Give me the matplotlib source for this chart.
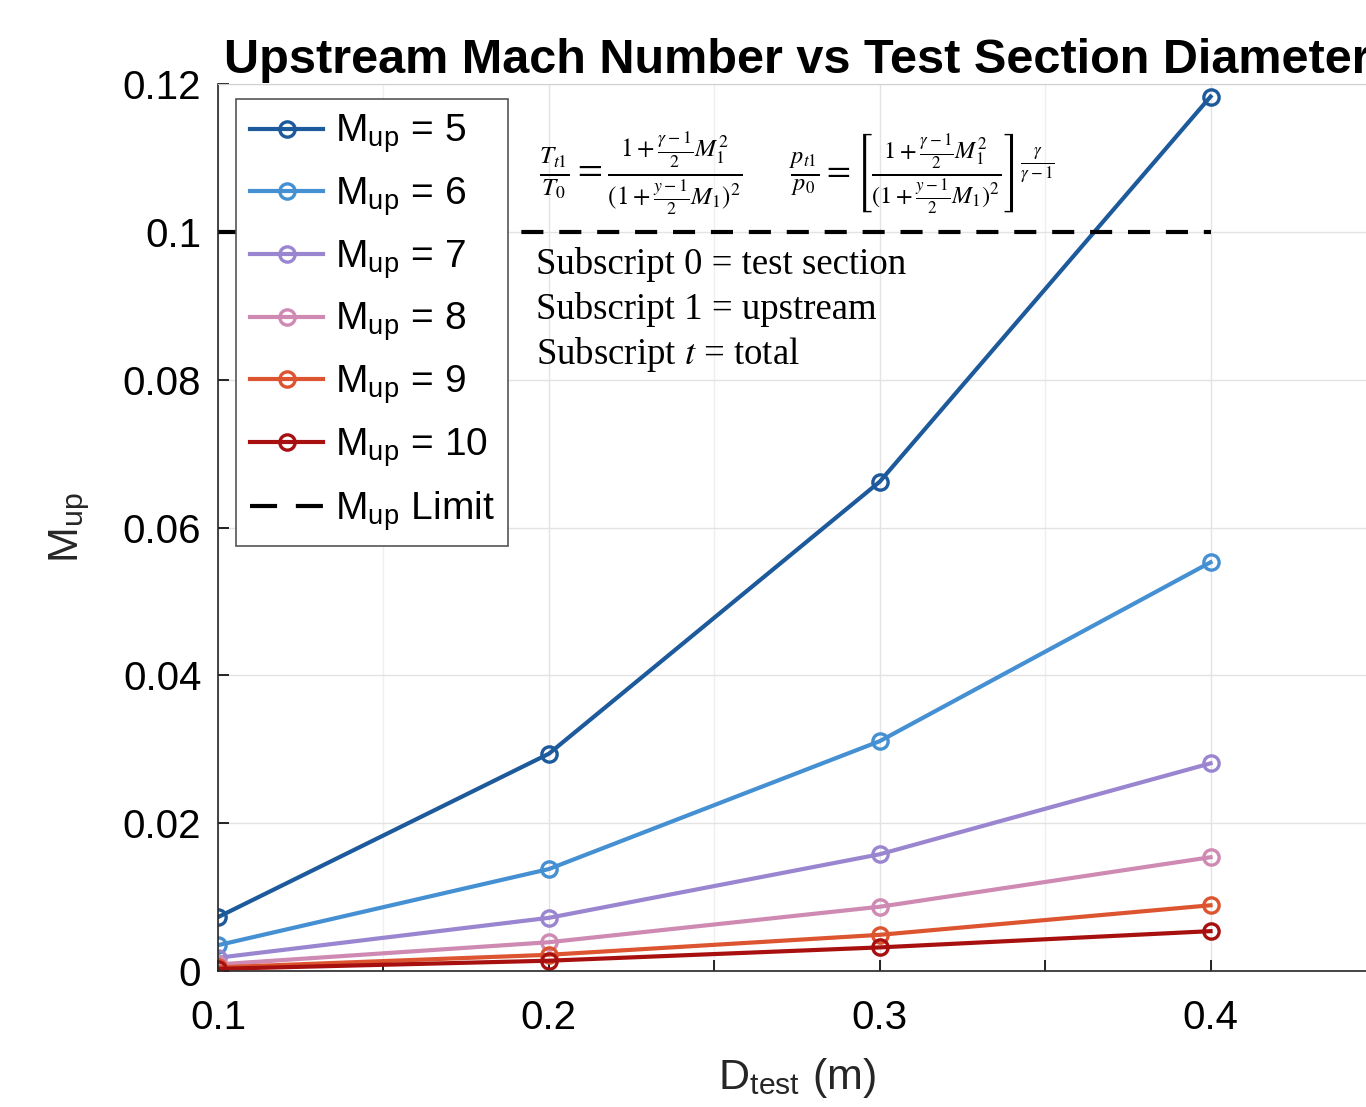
import matplotlib
matplotlib.use("Agg")
import matplotlib.pyplot as plt
from matplotlib.ticker import MultipleLocator

plt.rcParams['font.family'] = ['Liberation Sans', 'DejaVu Sans']
plt.rcParams['mathtext.fontset'] = 'stix'

# data
d_test = [0.1, 0.2, 0.3, 0.4]
mach_labels = ['5', '6', '7', '8', '9', '10']
m_up_5 = [0.0073, 0.0294, 0.0662, 0.1183]
m_up_6 = [0.0035, 0.0138, 0.0311, 0.0553]
m_up_7 = [0.0018, 0.0072, 0.0158, 0.0281]
m_up_8 = [0.0009, 0.0039, 0.0087, 0.0154]
m_up_9 = [0.0005, 0.0022, 0.0049, 0.0089]
m_up_10 = [0.0003, 0.0014, 0.0032, 0.0054]
m_limit = 0.1

series = [m_up_5, m_up_6, m_up_7, m_up_8, m_up_9, m_up_10]
colors = ['#1c5a9c', '#4490d2', '#9a85d0', '#cf8ab4', '#dd5530', '#a8100f']

fig = plt.figure(figsize=(13.66, 11.07), dpi=100)
ax = fig.add_axes([0.1596, 0.1228, 0.8477, 0.8013])

for vals, lab, c in zip(series, mach_labels, colors):
    ax.plot(d_test, vals, '-o', color=c, lw=3, ms=11, mew=2.4,
            mfc='none', label=r'M$_{\mathregular{up}}$ = ' + lab)
ax.plot([d_test[0], d_test[-1]], [m_limit, m_limit], '--', color='black',
        lw=3, dashes=(5.3, 3.8), label=r'M$_{\mathregular{up}}$ Limit')

ax.set_xlim(0.1, 0.45)
ax.set_ylim(0, 0.12)
ax.set_xticks(d_test)
ax.set_xticklabels(['0.1', '0.2', '0.3', '0.4'])
ax.xaxis.set_minor_locator(MultipleLocator(0.05))
ax.set_yticks([0, 0.02, 0.04, 0.06, 0.08, 0.1, 0.12])
ax.set_yticklabels(['0', '0.02', '0.04', '0.06', '0.08', '0.1', '0.12'])
ax.tick_params(axis='both', which='both', direction='in', labelsize=29,
               length=8, width=1.2, top=False, right=False)
ax.tick_params(axis='x', which='both', pad=20)
ax.tick_params(axis='y', which='both', pad=12)
ax.grid(True, which='major', color='#e3e3e3', lw=1)
ax.grid(True, which='minor', axis='x', color='#efefef', lw=1)
ax.set_axisbelow(True)
for s in ['top', 'right']:
    ax.spines[s].set_color('#d0d0d0')
for s in ['left', 'bottom']:
    ax.spines[s].set_color('#262626')
    ax.spines[s].set_linewidth(1.2)

ax.set_xlabel(r'D$_{\mathregular{test}}$ (m)', fontsize=31, color='#262626', labelpad=14)
ax.set_ylabel(r'M$_{\mathregular{up}}$', fontsize=31, color='#262626', labelpad=22)
ax.set_title('Upstream Mach Number vs Test Section Diameter', fontsize=35,
             fontweight='bold', pad=8)

leg = ax.legend(loc='upper left', bbox_to_anchor=(0.0155, 0.983), borderaxespad=0,
                fontsize=28, frameon=True, fancybox=False, edgecolor='#555555',
                framealpha=1, handlelength=1.9, handletextpad=0.3,
                labelspacing=0.52, borderpad=0.35)
leg.get_frame().set_linewidth(1.2)
leg.get_lines()[-1].set_dashes((6.5, 4.5))

# annotations
ax.text(0.277, 0.900,
        r'$\frac{T_{t1}}{T_0} = \frac{1+\frac{\gamma-1}{2}M_1^2}{(1+\frac{y-1}{2}M_1)^2}$',
        transform=ax.transAxes, fontsize=26, va='center', ha='left')
ax.text(0.493, 0.900,
        r'$\frac{p_{t1}}{p_0} = \left[\frac{1+\frac{\gamma-1}{2}M_1^2}{(1+\frac{y-1}{2}M_1)^2}\right]^{\frac{\gamma}{\gamma-1}}$',
        transform=ax.transAxes, fontsize=25, va='center', ha='left')
notes = ['Subscript 0 = test section', 'Subscript 1 = upstream', r'Subscript $t$ = total']
for i, t in enumerate(notes):
    ax.text(0.275, 0.797 - i * 0.051, t, transform=ax.transAxes, fontsize=26.5,
            family='Liberation Serif', va='center', ha='left')

fig.savefig('out.png', dpi=100)
